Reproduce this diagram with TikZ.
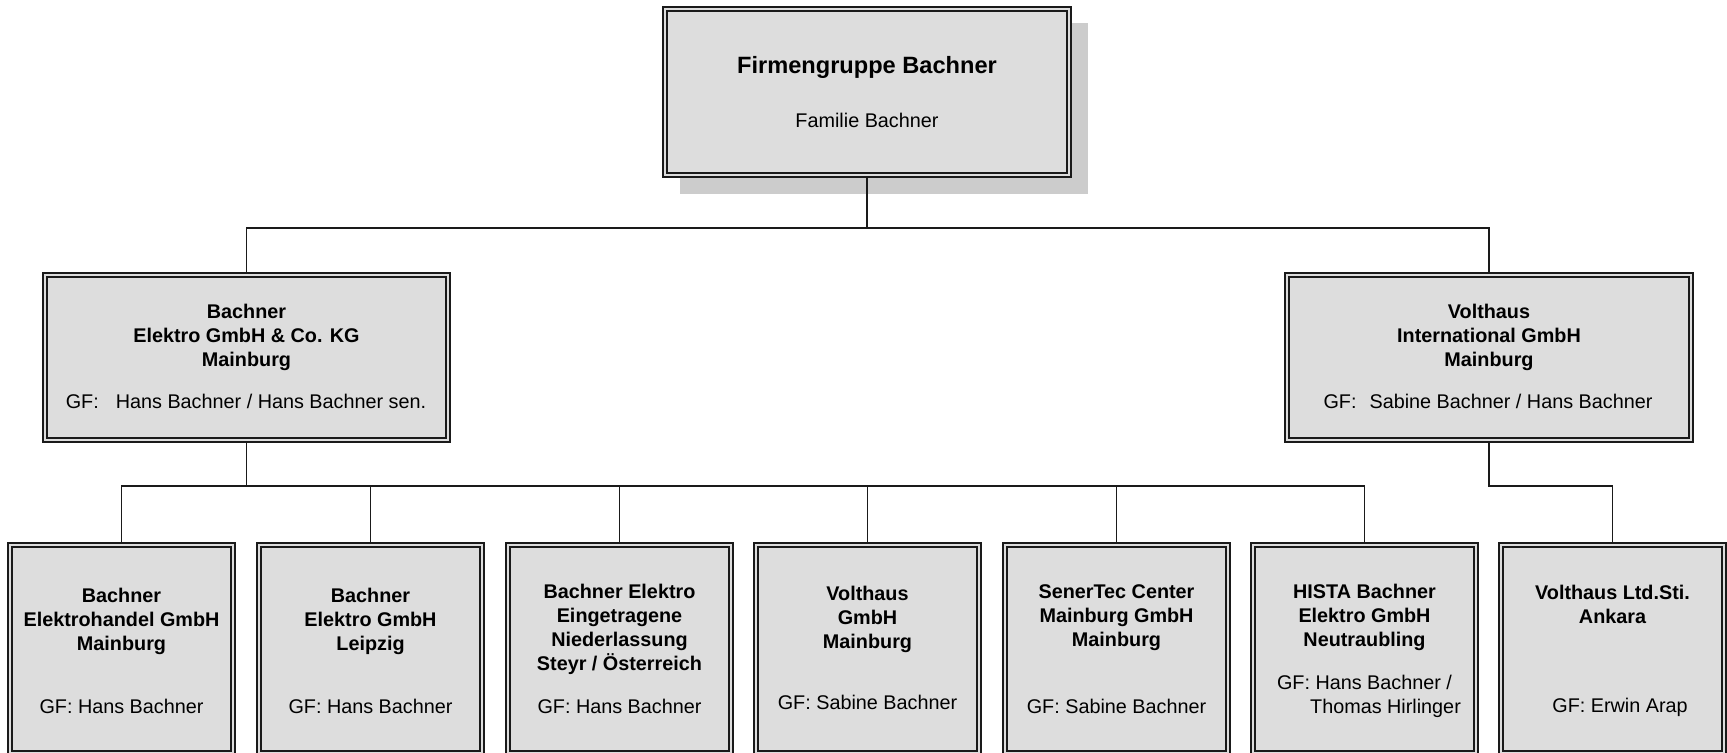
\documentclass[tikz,border=0pt]{standalone}
\usepackage{fontspec}
\setmainfont{Liberation Sans}
\usetikzlibrary{calc}
\definecolor{boxfill}{HTML}{DDDDDD}
\definecolor{shadowc}{HTML}{CCCCCC}
\definecolor{linec}{HTML}{1A1A1A}
\begin{document}
\begin{tikzpicture}[x=0.5pt,y=-0.5pt,
  orgbox/.style={draw=linec, line width=1pt, fill=boxfill, inner sep=0pt, outer sep=0pt, anchor=north west},
  bigbox/.style={orgbox, minimum width=204pt, minimum height=84.5pt},
  smallbox/.style={orgbox, minimum width=113.5pt, minimum height=106pt},
  innerline/.style={draw=linec, line width=0.6pt},
  conn/.style={draw=linec, line width=0.7pt},
  ttl/.style={font=\fontsize{9.9}{11.9}\selectfont\bfseries, align=center, anchor=base, inner sep=0pt},
  gf/.style={font=\fontsize{9.9}{11.9}\selectfont, align=center, anchor=base, inner sep=0pt},
]
\useasboundingbox (0,0) rectangle (1727,752);
\clip (0,0) rectangle (1727,752);
% shadow of top box
\fill[shadowc] (680,23) rectangle (1088,194);
% boxes
\node[orgbox, minimum width=204pt, minimum height=85pt] (top) at (663,7) {};
\node[bigbox, minimum width=203.5pt] (ml) at (43,273) {};
\node[bigbox] (mr) at (1285,273) {};
\node[smallbox] (b1) at (8,543) {};
\node[smallbox] (b2) at (257,543) {};
\node[smallbox] (b3) at (506,543) {};
\node[smallbox] (b4) at (754,543) {};
\node[smallbox] (b5) at (1003,543) {};
\node[smallbox] (b6) at (1251,543) {};
\node[smallbox] (b7) at (1499,543) {};
\foreach \n in {top,ml,mr,b1,b2,b3,b4,b5,b6,b7}
  \draw[innerline] ($(\n.north west)+(4,4)$) rectangle ($(\n.south east)+(-4,-4)$);
% connectors
\coordinate (busA) at (867,228);
\coordinate (busB) at (0,486);
\draw[conn] (top.south) -- (top.south |- busA);
\draw[conn] (ml.north) |- (top.south |- busA) -| (mr.north);
\draw[conn] (ml.south) -- (ml.south |- busB);
\draw[conn] (b1.north) |- (b6.north |- busB) -- (b6.north);
\foreach \n in {b2,b3,b4,b5}
  \draw[conn] (\n.north) -- (\n.north |- busB);
\draw[conn] (mr.south) |- (b7.north |- busB) -- (b7.north);
% texts (anchor=base refers to the last line of multi-line nodes)
\node[font=\fontsize{11.8}{14}\selectfont\bfseries, anchor=base, inner sep=0pt] (t0) at (867,73) {Firmengruppe Bachner};
\node[gf] (g0) at (867,127) {Familie Bachner};
\node[ttl] (t1) at (246.5,366) {Bachner\\Elektro GmbH \& Co. KG\\Mainburg};
\node[gf] (g1) at (246,408) {GF:\hspace{8.5pt}Hans Bachner / Hans Bachner sen.};
\node[ttl] (t2) at (1489,366) {Volthaus\\International GmbH\\Mainburg};
\node[gf] (g2) at (1488,408) {GF:\hspace{6.5pt}Sabine Bachner / Hans Bachner};
\node[ttl] (t3) at (121.5,650) {Bachner\\Elektrohandel GmbH\\Mainburg};
\node[gf] (g3) at (121.5,713) {GF: Hans Bachner};
\node[ttl] (t4) at (370.5,650) {Bachner\\Elektro GmbH\\Leipzig};
\node[gf] (g4) at (370.5,713) {GF: Hans Bachner};
\node[ttl] (t5) at (619.5,670) {Bachner Elektro\\Eingetragene\\Niederlassung\\Steyr / Österreich};
\node[gf] (g5) at (619.5,713) {GF: Hans Bachner};
\node[ttl] (t6) at (867.5,648) {Volthaus\\GmbH\\Mainburg};
\node[gf] (g6) at (867.5,709) {GF: Sabine Bachner};
\node[ttl] (t7) at (1116.5,646) {SenerTec Center\\Mainburg GmbH\\Mainburg};
\node[gf] (g7) at (1116.5,713) {GF: Sabine Bachner};
\node[ttl] (t8) at (1364.5,646) {HISTA Bachner\\Elektro GmbH\\Neutraubling};
\node[gf] (g8) at (1364.5,713) {GF: Hans Bachner /\\\hspace*{21pt}Thomas Hirlinger};
\node[ttl] (t9) at (1612.5,623) {Volthaus Ltd.Sti.\\Ankara};
\node[gf] (g9) at (1620,712) {GF: Erwin Arap};
\end{tikzpicture}
\end{document}
